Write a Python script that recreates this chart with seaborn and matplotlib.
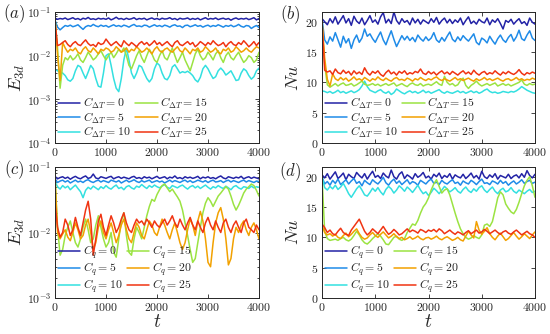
import numpy as np
import seaborn as sns
import matplotlib.pyplot as plt
from matplotlib.ticker import FuncFormatter, LogLocator, NullFormatter

# line colours for C = 0, 5, 10, 15, 20, 25
colors = ["#2323a6", "#1f8be8", "#33e0e0", "#9be342", "#f2a100", "#f03412"]
c_vals = [0, 5, 10, 15, 20, 25]

# (a) E3d, C_dT series (sampled every ~50 time units)
a_c0 = [0.072, 0.068, 0.071, 0.069, 0.073, 0.067, 0.070, 0.074, 0.068, 0.071, 0.066, 0.072, 0.069, 0.075, 0.068, 0.070,
        0.067, 0.072, 0.069, 0.071, 0.068, 0.073, 0.066, 0.070, 0.076, 0.069, 0.071, 0.067, 0.072, 0.068, 0.070, 0.074,
        0.067, 0.071, 0.069, 0.072, 0.066, 0.070, 0.073, 0.068, 0.071, 0.067, 0.072, 0.069, 0.070, 0.074, 0.068, 0.071,
        0.066, 0.072, 0.069, 0.070, 0.073, 0.067, 0.071, 0.068, 0.072, 0.066, 0.070, 0.074, 0.068, 0.071, 0.069, 0.073,
        0.067, 0.070, 0.072, 0.068, 0.071, 0.065, 0.070, 0.073, 0.068, 0.071, 0.069, 0.072, 0.067, 0.070, 0.074, 0.066, 0.071]
a_c5 = [0.065, 0.045, 0.039, 0.044, 0.049, 0.047, 0.050, 0.046, 0.048, 0.051, 0.045, 0.040, 0.046, 0.049, 0.047, 0.052,
        0.048, 0.046, 0.050, 0.047, 0.049, 0.045, 0.048, 0.051, 0.047, 0.049, 0.046, 0.050, 0.048, 0.045, 0.049, 0.052,
        0.047, 0.048, 0.046, 0.050, 0.049, 0.045, 0.048, 0.051, 0.047, 0.049, 0.046, 0.050, 0.048, 0.045, 0.049, 0.051,
        0.047, 0.048, 0.044, 0.049, 0.050, 0.046, 0.048, 0.051, 0.047, 0.049, 0.045, 0.048, 0.050, 0.046, 0.049, 0.047,
        0.051, 0.048, 0.045, 0.049, 0.047, 0.050, 0.046, 0.048, 0.052, 0.047, 0.045, 0.049, 0.048, 0.042, 0.046, 0.049, 0.044]
a_c10 = [0.0048, 0.0045, 0.0042, 0.0040, 0.0035, 0.0028, 0.0026, 0.0030, 0.0045, 0.0060, 0.0055, 0.0040, 0.0030, 0.0042,
         0.0060, 0.0050, 0.0030, 0.0020, 0.0019, 0.0040, 0.0100, 0.0110, 0.0060, 0.0030, 0.0018, 0.0015, 0.0030, 0.0080,
         0.0150, 0.0080, 0.0040, 0.0030, 0.0040, 0.0060, 0.0055, 0.0040, 0.0030, 0.0025, 0.0030, 0.0050, 0.0068, 0.0060,
         0.0040, 0.0030, 0.0028, 0.0035, 0.0055, 0.0062, 0.0050, 0.0040, 0.0043, 0.0041, 0.0044, 0.0040, 0.0035, 0.0028,
         0.0025, 0.0032, 0.0050, 0.0060, 0.0050, 0.0038, 0.0030, 0.0033, 0.0045, 0.0052, 0.0045, 0.0036, 0.0040, 0.0045,
         0.0035, 0.0027, 0.0028, 0.0040, 0.0050, 0.0045, 0.0035, 0.0029, 0.0033, 0.0045, 0.0052]
a_c15 = [0.070, 0.015, 0.0018, 0.006, 0.009, 0.008, 0.010, 0.008, 0.009, 0.011, 0.008, 0.007, 0.009, 0.012, 0.010, 0.008,
         0.009, 0.011, 0.013, 0.010, 0.008, 0.010, 0.012, 0.009, 0.011, 0.014, 0.012, 0.015, 0.010, 0.006, 0.005, 0.007,
         0.010, 0.013, 0.009, 0.007, 0.010, 0.014, 0.011, 0.008, 0.007, 0.010, 0.013, 0.009, 0.008, 0.011, 0.015, 0.010,
         0.007, 0.009, 0.012, 0.008, 0.006, 0.0045, 0.007, 0.011, 0.014, 0.010, 0.008, 0.009, 0.012, 0.010, 0.008, 0.011,
         0.013, 0.009, 0.007, 0.010, 0.012, 0.009, 0.008, 0.010, 0.012, 0.009, 0.007, 0.008, 0.010, 0.009, 0.007, 0.008, 0.012]
a_c20 = [0.070, 0.010, 0.0027, 0.020, 0.015, 0.012, 0.014, 0.013, 0.015, 0.012, 0.011, 0.014, 0.016, 0.013, 0.012, 0.015,
         0.013, 0.011, 0.014, 0.013, 0.015, 0.014, 0.012, 0.013, 0.016, 0.014, 0.012, 0.013, 0.015, 0.012, 0.014, 0.013,
         0.016, 0.014, 0.012, 0.013, 0.015, 0.013, 0.011, 0.014, 0.016, 0.013, 0.012, 0.014, 0.015, 0.013, 0.012, 0.014,
         0.016, 0.013, 0.012, 0.015, 0.013, 0.011, 0.014, 0.013, 0.015, 0.012, 0.013, 0.016, 0.014, 0.012, 0.013, 0.015,
         0.012, 0.011, 0.014, 0.013, 0.015, 0.012, 0.013, 0.016, 0.014, 0.012, 0.013, 0.015, 0.013, 0.012, 0.014, 0.016, 0.015]
a_c25 = [0.060, 0.017, 0.018, 0.020, 0.022, 0.018, 0.016, 0.019, 0.021, 0.018, 0.017, 0.020, 0.023, 0.019, 0.017, 0.018,
         0.016, 0.020, 0.018, 0.019, 0.024, 0.020, 0.017, 0.019, 0.021, 0.018, 0.016, 0.022, 0.019, 0.017, 0.020, 0.018,
         0.016, 0.019, 0.021, 0.018, 0.020, 0.017, 0.019, 0.022, 0.018, 0.020, 0.017, 0.019, 0.021, 0.018, 0.016, 0.020,
         0.022, 0.018, 0.017, 0.019, 0.021, 0.018, 0.020, 0.016, 0.018, 0.021, 0.019, 0.017, 0.020, 0.018, 0.022, 0.019,
         0.017, 0.018, 0.020, 0.016, 0.019, 0.021, 0.018, 0.017, 0.020, 0.018, 0.022, 0.019, 0.016, 0.018, 0.021, 0.017, 0.020]

# (b) Nu, C_dT series
b_c0 = [20.5, 20.0, 19.5, 20.5, 19.8, 20.8, 19.6, 20.3, 21.0, 19.8, 20.5, 19.4, 20.9, 20.1, 19.7, 20.6, 19.5, 20.2, 21.0,
        19.9, 20.3, 19.6, 20.8, 21.5, 19.8, 20.4, 19.7, 21.6, 20.2, 19.6, 20.5, 19.9, 20.2, 19.5, 20.6, 19.8, 20.4, 19.6,
        20.3, 20.0, 19.7, 20.5, 19.9, 20.7, 19.6, 20.2, 20.6, 19.8, 20.4, 19.7, 20.3, 19.9, 20.6, 19.5, 20.2, 20.8, 19.7,
        20.1, 19.6, 20.4, 20.0, 19.8, 20.6, 19.5, 20.3, 19.9, 20.5, 19.7, 18.8, 20.2, 19.9, 20.4, 19.6, 20.1, 20.5, 19.7,
        20.0, 19.4, 20.6, 19.9, 19.6]
b_c5 = [20.5, 17.0, 16.3, 17.5, 16.8, 18.2, 17.0, 15.8, 17.6, 16.5, 17.2, 15.6, 17.0, 17.8, 16.6, 17.3, 18.8, 17.6, 18.0,
        17.2, 16.6, 17.5, 18.3, 17.0, 16.2, 17.4, 18.5, 17.1, 15.9, 16.8, 17.7, 17.0, 17.6, 16.9, 17.4, 16.7, 17.8, 17.2,
        16.8, 17.5, 16.9, 17.3, 18.2, 17.0, 16.6, 17.4, 16.8, 17.6, 18.3, 17.1, 16.7, 17.5, 16.9, 17.7, 17.2, 16.8, 17.4,
        18.0, 16.6, 16.2, 17.3, 17.0, 16.5, 17.6, 16.9, 16.3, 17.2, 17.8, 17.0, 16.6, 17.4, 17.9, 16.8, 17.5, 18.6, 17.2,
        16.9, 17.8, 18.5, 17.3, 16.9]
b_c10 = [8.6, 8.5, 8.3, 8.5, 8.2, 8.4, 8.7, 8.3, 8.5, 8.2, 8.4, 8.6, 8.3, 8.5, 8.8, 9.4, 10.2, 9.3, 8.7, 8.5, 8.3, 8.6,
         8.8, 8.4, 8.2, 8.5, 8.0, 8.3, 8.9, 8.6, 8.3, 8.1, 8.4, 8.6, 8.3, 8.5, 8.2, 8.4, 8.7, 8.3, 8.5, 8.2, 8.4, 8.6,
         8.8, 8.4, 8.2, 8.5, 8.3, 8.2, 8.4, 8.6, 8.3, 8.5, 8.2, 8.4, 8.6, 8.3, 8.5, 8.2, 8.4, 8.7, 8.9, 8.5, 8.3, 8.4,
         8.2, 8.3, 8.5, 8.4, 8.3, 8.5, 8.4, 8.6, 8.9, 9.3, 9.0, 8.7, 8.5, 8.3, 8.2]
b_c15 = [20.0, 13.0, 9.6, 9.2, 9.5, 9.8, 9.4, 9.7, 9.9, 9.5, 9.6, 9.8, 9.4, 9.6, 9.9, 10.2, 9.7, 9.5, 9.6, 9.8, 9.5,
         9.7, 9.4, 9.6, 9.8, 9.5, 9.7, 9.9, 9.4, 9.6, 9.8, 9.5, 9.3, 9.7, 9.9, 9.6, 9.5, 9.8, 9.4, 9.6, 9.7, 9.5, 9.8,
         10.1, 9.7, 9.5, 11.0, 10.0, 9.6, 9.8, 9.4, 9.6, 10.3, 10.7, 9.5, 9.0, 9.5, 9.8, 10.2, 9.7, 9.4, 9.6, 9.8, 9.5,
         9.7, 9.9, 9.4, 9.6, 9.8, 9.5, 9.7, 9.4, 9.6, 9.8, 10.0, 10.4, 9.7, 9.5, 9.8, 9.6, 9.7]
b_c20 = [20.0, 14.0, 10.5, 9.4, 11.4, 10.6, 10.3, 10.8, 10.4, 10.7, 10.2, 10.5, 10.9, 10.4, 10.6, 10.3, 10.8, 10.5, 10.2,
         10.6, 10.4, 10.9, 10.5, 10.3, 10.7, 10.4, 10.2, 10.6, 10.8, 10.4, 10.5, 10.3, 10.7, 10.5, 10.2, 10.6, 10.4, 10.8,
         10.5, 10.3, 10.6, 10.4, 10.7, 10.9, 10.5, 10.3, 10.6, 10.4, 10.2, 10.5, 10.8, 10.4, 10.6, 10.3, 10.5, 10.7, 10.4,
         10.2, 10.6, 10.3, 10.5, 10.8, 10.4, 10.6, 10.3, 10.5, 10.7, 10.4, 10.2, 10.5, 10.6, 10.3, 10.5, 10.8, 10.4, 10.6,
         10.3, 10.5, 10.4, 10.7, 10.5]
b_c25 = [20.0, 12.0, 11.7, 11.9, 11.3, 12.2, 11.6, 11.4, 12.0, 11.5, 11.8, 11.2, 11.9, 11.4, 11.7, 11.3, 12.4, 11.6, 11.2,
         11.8, 11.5, 11.9, 11.3, 11.0, 11.6, 12.0, 11.4, 11.7, 11.2, 11.8, 11.5, 11.9, 11.3, 11.6, 11.4, 11.8, 11.6, 12.2,
         11.5, 11.3, 11.8, 11.4, 11.7, 11.2, 11.6, 11.9, 11.4, 11.7, 11.3, 11.8, 11.5, 11.2, 11.6, 11.9, 11.4, 11.7, 11.3,
         12.0, 11.5, 11.2, 11.6, 11.8, 11.3, 11.6, 11.4, 11.9, 11.5, 11.2, 11.7, 11.4, 11.8, 11.5, 11.3, 11.6, 12.1, 11.5,
         11.2, 11.6, 11.4, 11.7, 11.5]

# (c) E3d, C_q series
c_c0 = [0.072, 0.066, 0.069, 0.071, 0.067, 0.070, 0.065, 0.069, 0.072, 0.068, 0.066, 0.070, 0.073, 0.067, 0.069, 0.078,
        0.068, 0.066, 0.071, 0.069, 0.067, 0.070, 0.072, 0.066, 0.069, 0.071, 0.067, 0.070, 0.068, 0.066, 0.070, 0.072,
        0.067, 0.069, 0.066, 0.071, 0.068, 0.070, 0.066, 0.069, 0.072, 0.067, 0.069, 0.071, 0.066, 0.070, 0.068, 0.073,
        0.067, 0.069, 0.066, 0.071, 0.068, 0.070, 0.067, 0.069, 0.072, 0.066, 0.070, 0.068, 0.071, 0.067, 0.069, 0.066,
        0.070, 0.073, 0.068, 0.066, 0.071, 0.069, 0.067, 0.070, 0.068, 0.072, 0.066, 0.069, 0.071, 0.067, 0.070, 0.068, 0.066]
c_c5 = [0.066, 0.058, 0.061, 0.063, 0.059, 0.062, 0.057, 0.060, 0.063, 0.059, 0.061, 0.058, 0.062, 0.064, 0.060, 0.058,
        0.061, 0.063, 0.059, 0.062, 0.060, 0.058, 0.063, 0.061, 0.059, 0.062, 0.057, 0.060, 0.063, 0.059, 0.061, 0.064,
        0.060, 0.058, 0.062, 0.059, 0.061, 0.063, 0.058, 0.060, 0.062, 0.059, 0.061, 0.057, 0.060, 0.063, 0.059, 0.062,
        0.060, 0.058, 0.061, 0.063, 0.059, 0.062, 0.058, 0.060, 0.063, 0.061, 0.059, 0.062, 0.058, 0.061, 0.063, 0.059,
        0.060, 0.062, 0.058, 0.061, 0.063, 0.059, 0.062, 0.060, 0.058, 0.061, 0.063, 0.059, 0.062, 0.060, 0.058, 0.061, 0.060]
c_c10 = [0.060, 0.050, 0.046, 0.052, 0.048, 0.051, 0.045, 0.049, 0.053, 0.047, 0.042, 0.034, 0.044, 0.049, 0.046, 0.051,
         0.048, 0.045, 0.050, 0.047, 0.052, 0.048, 0.046, 0.050, 0.053, 0.047, 0.049, 0.045, 0.050, 0.052, 0.048, 0.046,
         0.051, 0.049, 0.054, 0.050, 0.047, 0.052, 0.049, 0.053, 0.050, 0.048, 0.051, 0.054, 0.049, 0.047, 0.052, 0.050,
         0.048, 0.051, 0.053, 0.049, 0.046, 0.050, 0.052, 0.048, 0.051, 0.047, 0.050, 0.053, 0.049, 0.046, 0.050, 0.048,
         0.052, 0.049, 0.047, 0.051, 0.048, 0.045, 0.050, 0.052, 0.048, 0.046, 0.050, 0.049, 0.047, 0.051, 0.048, 0.050, 0.049]
c_c15 = [0.070, 0.012, 0.0045, 0.0055, 0.009, 0.012, 0.015, 0.010, 0.007, 0.006, 0.008, 0.012, 0.016, 0.011, 0.007,
         0.008, 0.013, 0.018, 0.012, 0.008, 0.006, 0.007, 0.010, 0.005, 0.0042, 0.008, 0.015, 0.020, 0.009, 0.005,
         0.0045, 0.008, 0.012, 0.010, 0.008, 0.012, 0.018, 0.025, 0.032, 0.030, 0.038, 0.045, 0.052, 0.055, 0.048,
         0.042, 0.046, 0.040, 0.035, 0.030, 0.022, 0.014, 0.009, 0.0055, 0.0035, 0.0040, 0.007, 0.012, 0.020, 0.028,
         0.034, 0.030, 0.025, 0.030, 0.036, 0.040, 0.045, 0.050, 0.046, 0.036, 0.027, 0.022, 0.026, 0.032, 0.040,
         0.046, 0.050, 0.055, 0.052, 0.044, 0.036]
c_c20 = [0.070, 0.010, 0.0080, 0.0095, 0.011, 0.0085, 0.0075, 0.010, 0.014, 0.011, 0.008, 0.009, 0.013, 0.016, 0.010,
         0.0055, 0.007, 0.012, 0.015, 0.010, 0.008, 0.011, 0.014, 0.010, 0.007, 0.009, 0.013, 0.016, 0.011, 0.008,
         0.007, 0.010, 0.014, 0.012, 0.009, 0.008, 0.011, 0.015, 0.013, 0.010, 0.009, 0.012, 0.016, 0.013, 0.010,
         0.008, 0.011, 0.014, 0.010, 0.007, 0.0055, 0.007, 0.011, 0.016, 0.013, 0.009, 0.015, 0.021, 0.015, 0.008,
         0.0035, 0.0030, 0.007, 0.014, 0.020, 0.024, 0.016, 0.008, 0.0032, 0.0040, 0.008, 0.012, 0.010, 0.013, 0.015,
         0.011, 0.009, 0.012, 0.014, 0.011, 0.008]
c_c25 = [0.028, 0.012, 0.0085, 0.010, 0.016, 0.013, 0.009, 0.011, 0.017, 0.012, 0.009, 0.014, 0.022, 0.030, 0.016,
         0.0045, 0.008, 0.015, 0.019, 0.012, 0.009, 0.013, 0.018, 0.014, 0.010, 0.012, 0.016, 0.020, 0.014, 0.011,
         0.010, 0.013, 0.016, 0.014, 0.015, 0.013, 0.016, 0.014, 0.012, 0.015, 0.013, 0.012, 0.014, 0.016, 0.013,
         0.015, 0.018, 0.014, 0.012, 0.016, 0.013, 0.011, 0.014, 0.017, 0.013, 0.011, 0.015, 0.012, 0.010, 0.014,
         0.017, 0.013, 0.011, 0.015, 0.012, 0.010, 0.014, 0.016, 0.012, 0.010, 0.013, 0.015, 0.012, 0.010, 0.014,
         0.016, 0.012, 0.011, 0.010, 0.013, 0.011]

# (d) Nu, C_q series
d_c0 = [20.3, 19.8, 20.5, 19.6, 20.2, 20.8, 19.7, 20.1, 20.6, 19.5, 20.4, 20.0, 19.7, 20.7, 20.2, 19.8, 20.5, 19.6, 20.3,
        20.9, 19.9, 20.2, 19.7, 20.6, 20.1, 19.8, 21.1, 20.0, 19.6, 20.4, 20.8, 19.7, 20.3, 20.0, 19.6, 20.5, 19.9, 20.2,
        20.7, 19.8, 20.1, 19.6, 20.4, 20.0, 20.6, 19.7, 20.2, 19.9, 20.5, 19.6, 20.3, 20.0, 19.8, 20.4, 19.7, 20.1, 20.6,
        19.8, 20.2, 19.6, 20.9, 20.0, 19.7, 20.3, 19.9, 20.5, 19.6, 20.2, 20.0, 19.8, 20.4, 19.7, 20.1, 20.3, 19.8, 20.5,
        19.9, 21.0, 20.2, 19.8, 20.4]
d_c5 = [20.0, 18.8, 19.2, 18.6, 19.4, 18.9, 19.6, 18.7, 19.1, 19.5, 18.8, 19.3, 19.7, 18.9, 19.2, 18.5, 19.4, 19.0, 18.7,
        19.5, 19.1, 18.8, 19.3, 19.9, 19.0, 18.6, 19.2, 19.6, 18.9, 19.3, 18.7, 19.1, 19.5, 18.8, 19.2, 19.0, 18.6, 19.4,
        19.1, 18.8, 19.3, 19.6, 18.9, 19.1, 18.7, 19.4, 19.0, 18.8, 19.2, 19.5, 18.9, 19.1, 18.6, 19.3, 19.0, 18.8, 19.4,
        19.1, 18.7, 19.2, 19.6, 18.9, 19.0, 18.7, 19.3, 19.1, 18.8, 19.4, 18.9, 19.2, 18.6, 19.0, 19.3, 18.8, 19.1, 19.5,
        18.9, 19.2, 19.4, 18.9, 19.1]
d_c10 = [20.0, 18.2, 17.8, 18.4, 18.0, 18.6, 17.9, 18.3, 18.9, 18.1, 17.2, 16.6, 17.3, 18.0, 18.5, 17.8, 17.0, 16.8, 17.4,
         18.1, 17.6, 18.2, 17.5, 17.0, 17.9, 18.4, 18.0, 17.3, 17.8, 18.5, 18.1, 17.6, 18.3, 17.9, 17.4, 18.0, 18.6, 17.8,
         17.2, 17.5, 16.9, 17.4, 18.1, 17.7, 17.2, 17.8, 18.4, 18.0, 17.5, 17.8, 18.2, 17.6, 17.3, 17.9, 18.3, 17.7, 17.4,
         18.0, 17.6, 18.2, 18.5, 17.8, 17.4, 17.9, 18.3, 17.6, 17.2, 17.8, 18.1, 17.5, 17.7, 18.2, 17.6, 17.3, 17.8, 17.5,
         17.2, 17.6, 17.9, 17.4, 17.6]
d_c15 = [20.0, 11.0, 9.8, 9.5, 9.6, 9.7, 9.5, 9.8, 10.0, 9.6, 9.4, 9.7, 10.3, 11.0, 10.4, 9.6, 9.1, 8.9, 9.3, 9.8, 10.2,
         10.6, 10.2, 9.6, 8.9, 8.8, 9.4, 10.0, 10.2, 9.7, 9.5, 9.8, 10.8, 11.5, 12.2, 12.0, 12.8, 14.0, 15.0, 15.6, 16.5,
         17.8, 18.8, 19.5, 18.4, 17.3, 17.8, 18.0, 17.0, 15.5, 14.0, 12.6, 11.4, 10.6, 10.0, 9.7, 9.9, 10.3, 10.0, 9.8,
         10.4, 12.0, 12.2, 11.8, 12.6, 14.5, 16.5, 17.5, 17.0, 15.5, 14.8, 14.2, 13.9, 14.6, 15.8, 17.2, 18.5, 19.4, 20.0,
         18.5, 16.6]
d_c20 = [12.0, 10.8, 10.4, 10.6, 10.2, 10.5, 10.0, 9.8, 10.3, 10.7, 10.1, 10.5, 11.0, 11.4, 10.6, 10.0, 9.7, 9.9, 10.4,
         10.8, 10.3, 10.0, 10.5, 10.9, 10.4, 9.9, 10.2, 10.6, 10.1, 9.8, 10.0, 9.6, 9.8, 10.1, 9.7, 9.9, 10.2, 9.8, 9.6,
         9.9, 10.0, 9.7, 9.9, 10.2, 9.8, 9.6, 9.9, 10.1, 9.8, 9.5, 9.7, 10.0, 9.6, 9.4, 10.2, 11.0, 10.4, 9.9, 12.6, 11.2,
         10.5, 11.0, 11.6, 10.6, 10.0, 9.6, 10.2, 10.7, 10.1, 9.5, 9.8, 10.3, 10.8, 10.2, 9.7, 10.1, 10.6, 10.2, 9.8,
         10.4, 10.9]
d_c25 = [12.2, 11.6, 10.8, 11.2, 10.6, 10.4, 11.0, 11.5, 10.8, 10.5, 10.3, 11.2, 11.8, 12.4, 13.0, 12.0, 11.0, 10.4,
         10.8, 11.4, 11.0, 10.6, 11.2, 11.8, 11.1, 10.5, 10.8, 11.3, 10.9, 10.4, 10.6, 11.0, 11.4, 10.9, 11.2, 11.0, 10.7,
         11.3, 11.1, 10.8, 11.2, 11.0, 11.3, 10.9, 11.4, 11.1, 10.6, 10.9, 11.2, 10.8, 10.5, 10.9, 10.7, 10.4, 10.8, 11.1,
         10.6, 10.9, 11.2, 10.7, 10.9, 11.3, 11.0, 10.6, 10.9, 11.2, 10.8, 10.5, 10.9, 11.1, 10.7, 10.5, 10.9, 11.2, 10.8,
         10.4, 10.7, 11.0, 10.6, 10.4, 10.0]

sns.set_style("ticks")
plt.rcParams["mathtext.fontset"] = "cm"
plt.rcParams["font.family"] = ["DejaVu Serif"]
plt.rcParams["xtick.direction"] = "in"
plt.rcParams["ytick.direction"] = "in"

fig = plt.figure(figsize=(5.5, 3.34), dpi=100)
W, H = 550, 334


def px_axes(left, top, right, bottom):
    return fig.add_axes([left / W, 1 - bottom / H, (right - left) / W, (bottom - top) / H])


panels = [
    (px_axes(55, 12, 259, 143), [a_c0, a_c5, a_c10, a_c15, a_c20, a_c25], r"\Delta T", "log", (1e-4, 1e-1)),
    (px_axes(322, 12, 535, 143), [b_c0, b_c5, b_c10, b_c15, b_c20, b_c25], r"\Delta T", "lin", (0, 21.6)),
    (px_axes(55, 167, 259, 298), [c_c0, c_c5, c_c10, c_c15, c_c20, c_c25], "q", "log", (1e-3, 1e-1)),
    (px_axes(322, 167, 535, 298), [d_c0, d_c5, d_c10, d_c15, d_c20, d_c25], "q", "lin", (0, 21.6)),
]

for ax, series, sub, scale, ylim in panels:
    for vals, col, cv in zip(series, colors, c_vals):
        t = np.linspace(0, 4000, len(vals))
        sns.lineplot(x=t, y=vals, ax=ax, color=col, lw=1.1, estimator=None,
                     label=r"$C_{%s} = %d$" % (sub, cv))
    ax.set_xlim(0, 4000)
    ax.set_xticks([0, 1000, 2000, 3000, 4000])
    ax.xaxis.set_major_formatter(FuncFormatter(lambda v, p: r"$%d$" % v))
    if scale == "log":
        ax.set_yscale("log")
        ax.set_ylim(*ylim)
        ax.yaxis.set_major_locator(LogLocator(base=10, numticks=10))
        ax.yaxis.set_minor_locator(LogLocator(base=10, subs=np.arange(2, 10), numticks=10))
        ax.yaxis.set_minor_formatter(NullFormatter())
        ax.yaxis.set_major_formatter(FuncFormatter(lambda v, p: r"$10^{%d}$" % round(np.log10(v))))
    else:
        ax.set_ylim(*ylim)
        ax.set_yticks([0, 5, 10, 15, 20])
        ax.yaxis.set_major_formatter(FuncFormatter(lambda v, p: r"$%d$" % v))
    ax.tick_params(which="both", top=True, right=True, labelsize=8.5, colors="#262626",
                   width=0.6, pad=2.5)
    ax.tick_params(which="major", length=3)
    ax.tick_params(which="minor", length=1.5)
    for s in ax.spines.values():
        s.set_linewidth(0.7)
        s.set_color("#262626")
    ax.legend(loc="lower left", ncol=2, frameon=False, fontsize=8.5, handlelength=1.9,
              handletextpad=0.2, columnspacing=0.4, labelspacing=-0.05, borderaxespad=0.05,
              borderpad=0.2)
    ax.set_xlabel("")
    ax.set_ylabel("")

fig.text(17 / W, 1 - 78 / H, r"$E_{3d}$", fontsize=13, rotation=90, ha="center", va="center")
fig.text(17 / W, 1 - 232 / H, r"$E_{3d}$", fontsize=13, rotation=90, ha="center", va="center")
fig.text(293 / W, 1 - 78 / H, r"$Nu$", fontsize=13, rotation=90, ha="center", va="center")
fig.text(293 / W, 1 - 232 / H, r"$Nu$", fontsize=13, rotation=90, ha="center", va="center")
fig.text(157 / W, 1 - 322 / H, r"$t$", fontsize=14, ha="center", va="center")
fig.text(428 / W, 1 - 322 / H, r"$t$", fontsize=14, ha="center", va="center")

for lab, x, y in [("a", 14, 14), ("b", 290, 15), ("c", 14, 170), ("d", 290, 172)]:
    fig.text(x / W, 1 - y / H, r"$(%s)$" % lab, fontsize=12, ha="center", va="center")

fig.savefig("out.png", dpi=100)
